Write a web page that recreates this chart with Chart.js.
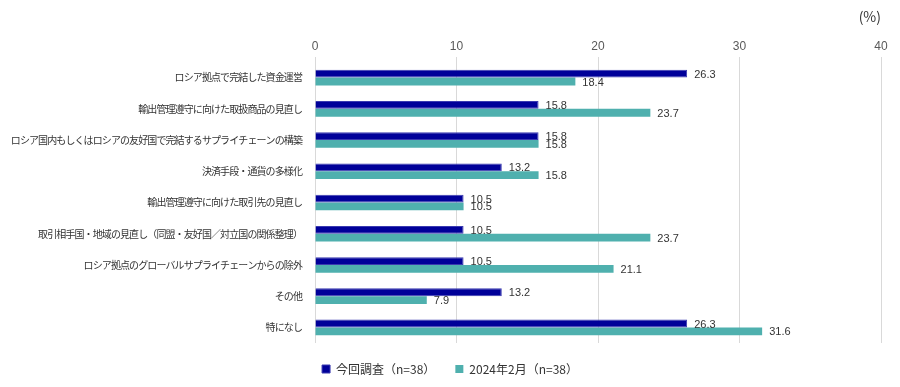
<!DOCTYPE html>
<html>
<head>
<meta charset="utf-8">
<script src="https://cdn.jsdelivr.net/npm/chart.js@4/dist/chart.umd.min.js"></script>
<style>
  html, body { margin: 0; padding: 0; background: #fff; }
  #wrap { width: 900px; height: 387px; }
</style>
</head>
<body>
<div id="wrap"><canvas id="resultsChart"></canvas></div>
<script>
const categories = [
    'ロシア拠点で完結した資金運営',
    '輸出管理遵守に向けた取扱商品の見直し',
    'ロシア国内もしくはロシアの友好国で完結するサプライチェーンの構築',
    '決済手段・通貨の多様化',
    '輸出管理遵守に向けた取引先の見直し',
    '取引相手国・地域の見直し（同盟・友好国／対立国の関係整理）',
    'ロシア拠点のグローバルサプライチェーンからの除外',
    'その他',
    '特になし'
];
const current = [26.3, 15.8, 15.8, 13.2, 10.5, 10.5, 10.5, 13.2, 26.3];
const feb2024 = [18.4, 23.7, 15.8, 15.8, 10.5, 23.7, 21.1, 7.9, 31.6];
const seriesNames = ['今回調査（n=38）', '2024年2月（n=38）'];

const jpFont = '"Noto Sans CJK JP", "Noto Sans", sans-serif';
const numFont = '"Liberation Sans", Arial, sans-serif';

// draws the value next to each bar, then tightens spacing for the
// category labels (drawn after datasets because ticks.z = 1)
const valueLabels = {
    id: 'valueLabels',
    afterLayout(chart) {
        // let the long category labels use the left margin (labels are clipped to the scale box)
        chart.scales.y.left = 0;
    },
    afterDatasetsDraw(chart) {
        const ctx = chart.ctx;
        ctx.save();
        ctx.font = '11px ' + numFont;
        ctx.fillStyle = '#333333';
        ctx.textAlign = 'left';
        ctx.textBaseline = 'middle';
        chart.data.datasets.forEach((ds, i) => {
            const meta = chart.getDatasetMeta(i);
            meta.data.forEach((bar, j) => {
                ctx.fillText(ds.data[j].toFixed(1), bar.x + 7, bar.y + 1);
            });
        });
        ctx.restore();
        ctx.letterSpacing = '-0.9px';
    },
    afterDraw(chart) {
        chart.ctx.letterSpacing = '0px';
    }
};

const ctx = document.getElementById('resultsChart').getContext('2d');
// eslint-disable-next-line no-undef
new Chart(ctx, {
    type: 'bar',
    data: {
        labels: categories,
        datasets: [{
            label: seriesNames[0],
            data: current,
            backgroundColor: '#000099',
            borderColor: '#3a3ab0',
            borderWidth: 1
        }, {
            label: seriesNames[1],
            data: feb2024,
            backgroundColor: '#4fb0ae',
            borderColor: '#4fb0ae',
            borderWidth: 0
        }]
    },
    options: {
        indexAxis: 'y',
        responsive: true,
        maintainAspectRatio: false,
        animation: false,
        datasets: {
            bar: { barPercentage: 1, categoryPercentage: 0.5 }
        },
        layout: { padding: { left: 19, right: 19, top: 0, bottom: 2 } },
        scales: {
            x: {
                position: 'top',
                min: 0,
                max: 40,
                ticks: {
                    stepSize: 10,
                    color: '#595959',
                    font: { family: numFont, size: 12 },
                    padding: 3
                },
                grid: { color: '#d9d9d9', tickColor: '#d9d9d9', tickLength: 5 },
                border: { display: false },
                title: {
                    display: true,
                    text: '(%)',
                    align: 'end',
                    color: '#333333',
                    font: { family: jpFont, size: 14 },
                    padding: { top: 8, bottom: 0 }
                },
                afterFit(scale) { scale.height = 62; }
            },
            y: {
                ticks: {
                    color: '#333333',
                    font: { family: jpFont, size: 10 },
                    padding: 13,
                    autoSkip: false,
                    z: 1
                },
                grid: { display: false, drawTicks: false },
                border: { display: false },
                afterFit(scale) { scale.width = 296; }
            }
        },
        plugins: {
            legend: {
                position: 'bottom',
                labels: {
                    boxWidth: 8,
                    boxHeight: 8,
                    color: '#333333',
                    padding: 20,
                    font: { family: jpFont, size: 12 }
                }
            },
            tooltip: { enabled: false }
        }
    },
    plugins: [valueLabels]
});
</script>
</body>
</html>
